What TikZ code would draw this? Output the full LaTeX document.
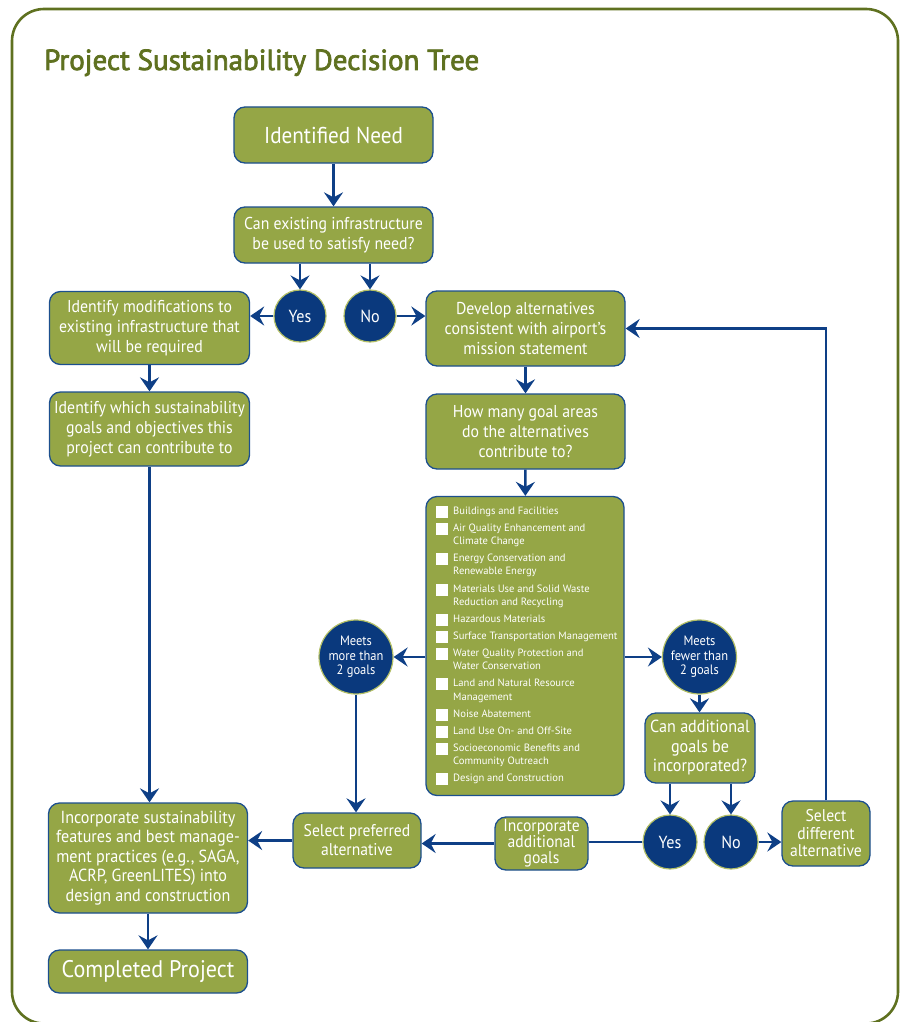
\documentclass[tikz,border=0pt]{standalone}
\usepackage{fontspec}
\setmainfont{PT Sans}
\newfontfamily\condf[FakeStretch=0.92]{PT Sans}
\newfontfamily\titlef[FakeBold=2.5]{PT Sans}
\usetikzlibrary{arrows.meta,calc}
\definecolor{olivefill}{HTML}{95A646}
\definecolor{boxline}{HTML}{1C4F8E}
\definecolor{navyc}{HTML}{0A397D}
\definecolor{circline}{HTML}{B3BF66}
\definecolor{arrowc}{HTML}{0E3F86}
\definecolor{framec}{HTML}{5F7120}
\tikzset{
  box/.style={draw=boxline, fill=olivefill, line width=1.3pt, rounded corners=11pt,
    text=white, align=center, inner sep=0pt, font=\condf\fontsize{17.2}{19.8}\selectfont},
  circ/.style={circle, draw=circline, fill=navyc, line width=1.2pt, text=white,
    inner sep=0pt, align=center, font=\condf\fontsize{17.5}{17.5}\selectfont},
  arr/.style={draw=arrowc, line width=2.6pt, -{Stealth[length=14pt,width=19pt,inset=5pt]}},
  ln/.style={draw=arrowc, line width=2.6pt},
  sq/.style={fill=white, draw=none, minimum size=12pt, inner sep=0pt},
  item/.style={anchor=mid west, inner sep=0pt, text=white, font=\fontsize{10.6}{12}\selectfont},
}
\begin{document}
\begin{tikzpicture}[x=1pt,y=-1pt]
\useasboundingbox (0,0) rectangle (905,1022);
\draw[framec, line width=2.6pt, rounded corners=32pt] (12,9) rectangle (898,1023.5);
\node[anchor=base west, inner sep=0pt, text=framec, font=\titlef\fontsize{29}{29}\selectfont] (title) at (44,70) {Project Sustainability Decision Tree};

\node[box, minimum width=199pt, minimum height=56pt, font=\condf\fontsize{23}{26}\selectfont] (need) at (333.5,135) {Identified Need};
\node[box, minimum width=199pt, minimum height=56pt] (can) at (333.5,235) {Can existing infrastructure\\be used to satisfy need?};
\node[circ, minimum size=52pt] (yes1) at (300,316) {Yes};
\node[circ, minimum size=52pt] (no1) at (370,316) {No};
\node[box, minimum width=200pt, minimum height=73pt] (mod) at (149.5,328) {Identify modifications to\\existing infrastructure that\\will be required};
\node[box, minimum width=200pt, minimum height=74pt] (which) at (149.5,429) {Identify which sustainability\\goals and objectives this\\project can contribute to};
\node[box, minimum width=199pt, minimum height=75pt] (dev) at (525.5,328.5) {Develop alternatives\\consistent with airport’s\\mission statement};
\node[box, minimum width=199pt, minimum height=75pt] (how) at (525.5,431.5) {How many goal areas\\do the alternatives\\contribute to?};
\node[box, minimum width=198pt, minimum height=299pt] (list) at (525,646) {};
\node[circ, minimum size=74pt, font=\condf\fontsize{13.6}{14.5}\selectfont] (more) at (356,657) {Meets\\more than\\2 goals};
\node[circ, minimum size=74pt, font=\condf\fontsize{13.6}{14.5}\selectfont] (fewer) at (699.5,657) {Meets\\fewer than\\2 goals};
\node[box, minimum width=110pt, minimum height=70pt, font=\condf\fontsize{17.5}{19.5}\selectfont] (canadd) at (700,748) {Can additional\\goals be\\incorporated?};
\node[circ, minimum size=54pt] (yes2) at (670,842) {Yes};
\node[circ, minimum size=54pt] (no2) at (731,842) {No};
\node[box, minimum width=88pt, minimum height=65pt, font=\condf\fontsize{17}{17.5}\selectfont] (diff) at (826,833.5) {Select\\different\\alternative};
\node[box, minimum width=93pt, minimum height=53pt, font=\condf\fontsize{17}{16}\selectfont] (incadd) at (541.5,843.5) {Incorporate\\additional\\goals};
\node[box, minimum width=128pt, minimum height=55pt, font=\condf\fontsize{17}{19}\selectfont] (pref) at (357,840.5) {Select preferred\\alternative};
\node[box, minimum width=199pt, minimum height=110pt, font=\condf\fontsize{17.5}{19.5}\selectfont] (incs) at (148,858) {Incorporate sustainability\\features and best manage-\\ment practices (e.g., SAGA,\\ACRP, GreenLITES) into\\design and construction};
\node[box, minimum width=199pt, minimum height=43pt, font=\condf\fontsize{24}{26}\selectfont] (done) at (148,971.5) {Completed Project};

% checklist
\foreach \y [count=\i] in {512,529,559,590,620,637,654,684,715,732,749,779}
  \node[sq] (sq\i) at (442,\y) {};
\foreach \y/\t [count=\i] in {512/Buildings and Facilities,
  529/Air Quality Enhancement and, 542/Climate Change,
  559/Energy Conservation and, 572/Renewable Energy,
  590/Materials Use and Solid Waste, 603/Reduction and Recycling,
  620/Hazardous Materials,
  637/Surface Transportation Management,
  654/Water Quality Protection and, 667/Water Conservation,
  684/Land and Natural Resource, 698/Management,
  715/Noise Abatement,
  732/Land Use On- and Off-Site,
  749/Socioeconomic Benefits and, 762/Community Outreach,
  779/Design and Construction}
  \node[item] (it\i) at (453,\y) {\t};

% connectors
\draw[arr] (need) -- (can);
\draw[arr] (can.south -| yes1) -- (yes1.north);
\draw[arr] (can.south -| no1) -- (no1.north);
\draw[arr] (yes1.west) -- (mod.east |- yes1);
\draw[arr] (no1.east) -- (dev.west |- no1);
\draw[arr] (mod) -- (which);
\draw[arr] (which.south) -- (which.south |- incs.north);
\draw[arr] (dev) -- (how);
\draw[arr] (how) -- (list);
\draw[arr] (list.west |- more) -- (more.east);
\draw[arr] (list.east |- fewer) -- (fewer.west);
\draw[arr] (fewer.south) -- (canadd.north -| fewer);
\draw[arr] (canadd.south -| yes2) -- (yes2.north);
\draw[arr] (canadd.south -| no2) -- (no2.north);
\draw[arr] (no2.east) -- (diff.west |- no2);
\draw[arr] (diff.north) |- (dev.east);
\draw[ln] (yes2.west) -- (incadd.east |- yes2);
\draw[arr] (incadd.west) -- (pref.east |- incadd.west);
\draw[arr] (more.south) -- (more.south |- pref.north);
\draw[arr] (pref.west) -- (incs.east |- pref.west);
\draw[arr] (incs) -- (done);
\end{tikzpicture}
\end{document}
